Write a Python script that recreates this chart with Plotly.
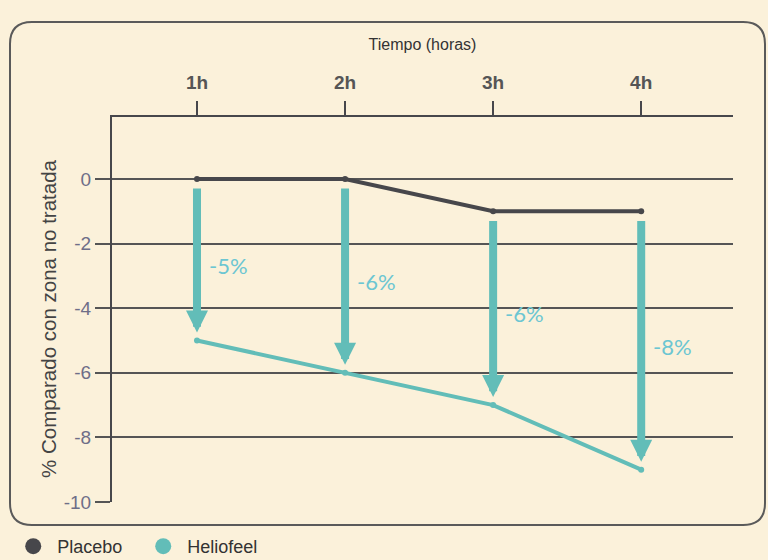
import plotly.graph_objects as go

hours = [1, 2, 3, 4]
hour_labels = ["1h", "2h", "3h", "4h"]
placebo = [0, 0, -1, -1]
heliofeel = [-5, -6, -7, -9]
diff_labels = ["-5%", "-6%", "-6%", "-8%"]
y_ticks = [0, -2, -4, -6, -8, -10]
y_tick_labels = ["0", "-2", "-4", "-6", "-8", "-10"]

DARK = "#47474b"
TEAL = "#62bdb8"
TEAL_TXT = "#6cc6d2"
BG = "#fbf1da"
FONT = "Liberation Sans, Arial, sans-serif"

fig = go.Figure()
fig.add_trace(go.Scatter(x=hours, y=placebo, name="Placebo", mode="lines+markers", showlegend=False,
                         line=dict(color=DARK, width=4), marker=dict(color=DARK, size=6)))
fig.add_trace(go.Scatter(x=hours, y=heliofeel, name="Heliofeel", mode="lines+markers", showlegend=False,
                         line=dict(color=TEAL, width=4), marker=dict(color=TEAL, size=6)))
# legend entries (circles only)
fig.add_trace(go.Scatter(x=[None], y=[None], name="Placebo", mode="markers",
                         marker=dict(color=DARK, size=17)))
fig.add_trace(go.Scatter(x=[None], y=[None], name="Heliofeel", mode="markers",
                         marker=dict(color=TEAL, size=17)))

gap = 0.25
for h, p, q, lab in zip(hours, placebo, heliofeel, diff_labels):
    fig.add_annotation(x=h, y=q + gap, ax=h, ay=p - gap, xref="x", yref="y",
                       axref="x", ayref="y", showarrow=True, arrowhead=2,
                       arrowsize=0.55, arrowwidth=8, arrowcolor=TEAL, text="")
    fig.add_annotation(x=h, y=(p + q) / 2 - 0.17, xref="x", yref="y", text=lab,
                       showarrow=False, xanchor="left", xshift=10,
                       font=dict(family="Lato, sans-serif", size=22, color=TEAL_TXT))

# y-axis title
fig.add_annotation(text="% Comparado con zona no tratada", xref="paper", yref="paper",
                   x=(48 - 112) / 621, y=(502 - 319) / 385, textangle=-90,
                   xanchor="center", yanchor="middle", showarrow=False,
                   font=dict(family=FONT, size=20.5, color="#444"))

# rounded frame
W, H = 621, 385
x0, x1 = (10 - 112) / W, (765 - 112) / W
y0, y1 = (502 - 525) / H, (502 - 22) / H
rx, ry = 22 / W, 22 / H
path = (f"M {x0+rx},{y1} L {x1-rx},{y1} Q {x1},{y1} {x1},{y1-ry} "
        f"L {x1},{y0+ry} Q {x1},{y0} {x1-rx},{y0} L {x0+rx},{y0} "
        f"Q {x0},{y0} {x0},{y0+ry} L {x0},{y1-ry} Q {x0},{y1} {x0+rx},{y1} Z")
fig.add_shape(type="path", path=path, xref="paper", yref="paper",
              line=dict(color="#5a5a5a", width=2), layer="below")

fig.update_layout(
    width=768, height=565,
    paper_bgcolor=BG, plot_bgcolor=BG,
    margin=dict(l=112, r=35, t=117, b=63, autoexpand=False),
    showlegend=True,
    legend=dict(orientation="h", x=0.012, xanchor="left", xref="container",
                y=0.0, yanchor="bottom", yref="container",
                font=dict(family=FONT, size=18, color="#333"),
                entrywidth=77, entrywidthmode="pixels",
                itemwidth=38, bgcolor="rgba(0,0,0,0)"),
    xaxis=dict(side="top", range=[0.426, 4.62], tickvals=hours, ticktext=hour_labels,
               automargin=False,
               showgrid=False, zeroline=False, showline=True, linecolor=DARK, linewidth=2,
               ticks="outside", ticklen=14, tickwidth=2, tickcolor=DARK, ticklabelstandoff=4,
               tickfont=dict(family=FONT, size=19, color="#555", weight="bold"),
               title=dict(text="Tiempo (horas)", standoff=18,
                          font=dict(family=FONT, size=16, color="#333"))),
    yaxis=dict(range=[-10, 1.92], tickvals=y_ticks, ticktext=y_tick_labels, automargin=False,
               showgrid=True, gridcolor="#555", gridwidth=2,
               zeroline=False, showline=True, linecolor=DARK, linewidth=2,
               ticks="outside", ticklen=15, tickwidth=2, tickcolor="#555",
               tickfont=dict(family=FONT, size=19, color="#6e6e88")),
)

fig.write_html("out.html", config={"displayModeBar": False},
               post_script="document.body.style.margin='0';document.body.style.overflow='hidden';"
                           "document.body.style.background='#fbf1da';")
